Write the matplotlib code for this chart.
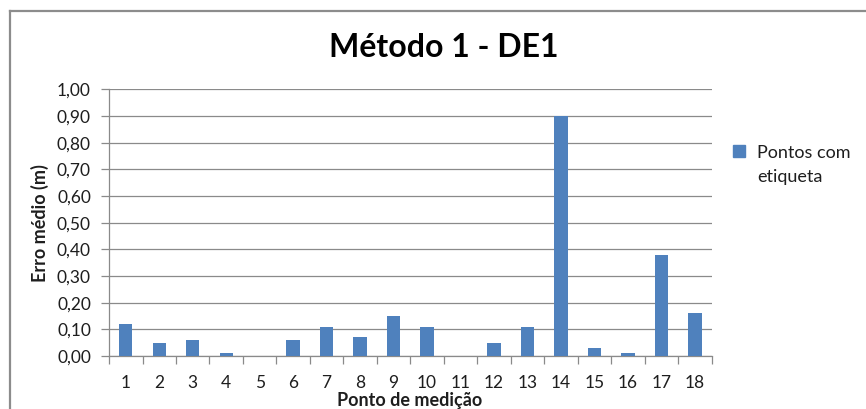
import matplotlib
matplotlib.use("Agg")
import matplotlib.pyplot as plt
from matplotlib.lines import Line2D
from matplotlib.ticker import FuncFormatter, FixedLocator

categories = [str(i) for i in range(1, 19)]
erro_medio = [0.12, 0.05, 0.06, 0.01, 0.00, 0.06, 0.11, 0.07, 0.15,
              0.11, 0.00, 0.05, 0.11, 0.90, 0.03, 0.01, 0.38, 0.16]
series_name = ["Pontos com", "etiqueta"]
title = "Método 1 - DE1"
y_label = "Erro médio (m)"
x_label = "Ponto de medição"

plt.rcParams["font.family"] = ["Lato", "DejaVu Sans"]

fig = plt.figure(figsize=(8.66, 4.09), dpi=100)
ax = fig.add_axes([0.1259, 0.1296, 0.6959, 0.6521])

bar_color = "#4F81BD"
grid_color = "#8A8A8A"
text_color = "#1E1E1E"
x = list(range(1, len(categories) + 1))
ax.bar(x, erro_medio, width=0.4, color=bar_color, zorder=3)

ax.set_xlim(0.5, len(categories) + 0.5)
ax.set_ylim(0, 1.0)
ax.set_yticks([i / 10 for i in range(11)])
ax.yaxis.set_major_formatter(FuncFormatter(lambda v, p: f"{v:.2f}".replace(".", ",")))
ax.set_xticks(x)
ax.set_xticklabels(categories)
ax.xaxis.set_minor_locator(FixedLocator([i + 0.5 for i in range(0, len(categories) + 1)]))

ax.tick_params(axis="x", which="major", length=0, pad=14, labelsize=12.5, colors=text_color)
ax.tick_params(axis="x", which="minor", length=6, width=0.9, color=grid_color, direction="out")
ax.tick_params(axis="y", which="major", length=6, width=0.9, color=grid_color,
               pad=7, labelsize=12.5, labelcolor=text_color)

ax.grid(axis="y", color=grid_color, linewidth=0.9, zorder=0)
for side in ("top", "right"):
    ax.spines[side].set_visible(False)
for side in ("left", "bottom"):
    ax.spines[side].set_color(grid_color)
    ax.spines[side].set_linewidth(0.9)

ax.set_ylabel(y_label, fontsize=13, fontweight="bold", va="center", color=text_color)
ax.yaxis.set_label_coords(-0.1153, 0.499)
ax.set_xlabel(x_label, fontsize=13, fontweight="bold", va="center", color=text_color)
ax.xaxis.set_label_coords(0.4995, -0.165)
fig.text(0.512, 0.885, title, ha="center", va="center", fontsize=23,
         fontweight="bold", color="#000000")

leg = fig.legend(handles=[Line2D([0], [0], marker="s", linestyle="none",
                                 markersize=9, color=bar_color)],
                 labels=[series_name[0]], loc="upper left",
                 bbox_to_anchor=(0.835, 0.668), frameon=False, fontsize=13,
                 handletextpad=0.6, handlelength=0.8, borderpad=0)
for t in leg.get_texts():
    t.set_color(text_color)

# wrapped second line of the legend entry, aligned under the first
fig.canvas.draw()
bb = leg.get_texts()[0].get_window_extent().transformed(fig.transFigure.inverted())
fig.text(bb.x0, bb.y0 - 0.058, series_name[1], ha="left", va="bottom",
         fontsize=13, color=text_color)

# outer chart frame (left and top edges)
fig.add_artist(Line2D([9.5 / 866, 9.5 / 866], [0, 1 - 10.5 / 409],
                      transform=fig.transFigure, color="#8C8C8C", linewidth=1.6))
fig.add_artist(Line2D([9.5 / 866, 1], [1 - 10.5 / 409, 1 - 10.5 / 409],
                      transform=fig.transFigure, color="#8C8C8C", linewidth=1.6))

fig.savefig("out.png", dpi=100)
